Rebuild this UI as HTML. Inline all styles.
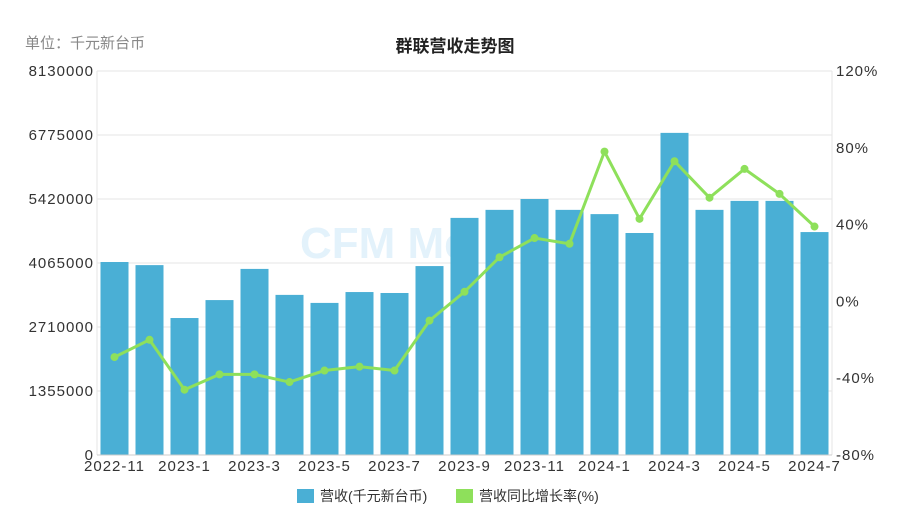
<!DOCTYPE html>
<html><head><meta charset="utf-8"><style>
body{margin:0;background:#fff;font-family:"Liberation Sans","Noto Sans CJK SC",sans-serif}
svg text{font-family:"Liberation Sans","Noto Sans CJK SC",sans-serif}
.tk{font-size:15px;letter-spacing:1px;fill:#333}
</style></head><body>
<svg id="c" width="910" height="517">
<text x="25" y="48" font-size="15" fill="#888">单位：千元新台币</text>
<text x="455" y="52" font-size="17" font-weight="bold" text-anchor="middle" fill="#222">群联营收走势图</text>
<g id="grid"></g>
<text x="300" y="258" font-size="44" font-weight="bold" fill="#e3f2fb">CFM  Me</text>
<g id="bars"></g><g id="line"></g><g id="axes"></g>
<g>
<rect x="297" y="489" width="17" height="14" fill="#4aafd5"/>
<text x="320" y="501" font-size="14" fill="#333">营收(千元新台币)</text>
<rect x="456" y="489" width="17" height="14" fill="#8ee05b"/>
<text x="479" y="501" font-size="14" fill="#333">营收同比增长率(%)</text>
</g>
</svg>
<script>
const categories=["2022-11","2022-12","2023-1","2023-2","2023-3","2023-4","2023-5","2023-6","2023-7","2023-8","2023-9","2023-10","2023-11","2023-12","2024-1","2024-2","2024-3","2024-4","2024-5","2024-6","2024-7"];
const revenue=[4086000,4020000,2900000,3280000,3940000,3390000,3220000,3450000,3430000,4000000,5020000,5190000,5420000,5190000,5100000,4700000,6820000,5190000,5380000,5380000,4720000];
const yoy=[-29,-20,-46,-38,-38,-42,-36,-34,-36,-10,5,23,33,30,78,43,73,54,69,56,39];
const leftTicks=[0,1355000,2710000,4065000,5420000,6775000,8130000];
const rightTicks=[-80,-40,0,40,80,120];
const NS="http://www.w3.org/2000/svg";
const X0=97,X1=832,Y0=455,Y1=71;
const step=(X1-X0)/categories.length;
const xc=i=>X0+step*(i+0.5);
const yl=v=>Y0-(v/8130000)*(Y0-Y1);
const yr=v=>Y0-((v+80)/200)*(Y0-Y1);
function mk(t,a,p){const e=document.createElementNS(NS,t);for(const k in a)e.setAttribute(k,a[k]);p.appendChild(e);return e;}
const g=document.getElementById('grid'),ax=document.getElementById('axes');
leftTicks.forEach((v,i)=>{
 const l=mk('line',{x1:X0,x2:X1,y1:yl(v),y2:yl(v),stroke:'#e6e6e6'},g);
 
 
 const t=mk('text',{x:X0-3,y:yl(v)+5,'text-anchor':'end',class:'tk'},ax);t.textContent=v;
 
 
});
rightTicks.forEach(v=>{
 const t=mk('text',{x:X1+4,y:yr(v)+5,class:'tk'},ax);t.textContent=v+'%';
 
 
});
mk('line',{x1:X0,x2:X0,y1:Y1,y2:Y0,stroke:'#e6e6e6'},g);
mk('line',{x1:X1,x2:X1,y1:Y1,y2:Y0,stroke:'#e6e6e6'},g);
mk('line',{x1:X0,x2:X1,y1:Y0,y2:Y0,stroke:'#ccc'},ax);
const b=document.getElementById('bars');
revenue.forEach((v,i)=>{
 const r=mk('rect',{x:xc(i)-14,y:yl(v),width:28,height:Y0-yl(v),fill:'#4aafd5'},b);
 
 
});
categories.forEach((c,i)=>{if(i%2)return;
 const t=mk('text',{x:xc(i),y:471,'text-anchor':'middle',class:'tk'},ax);t.textContent=c;
 
 
});
const ln=document.getElementById('line');
const p=mk('polyline',{points:yoy.map((v,i)=>xc(i)+','+yr(v)).join(' '),fill:'none',stroke:'#8ee05b','stroke-width':3},ln);


yoy.forEach((v,i)=>{
 const c=mk('circle',{cx:xc(i),cy:yr(v),r:4,fill:'#8ee05b'},ln);
 
 
});
</script>
</body></html>
